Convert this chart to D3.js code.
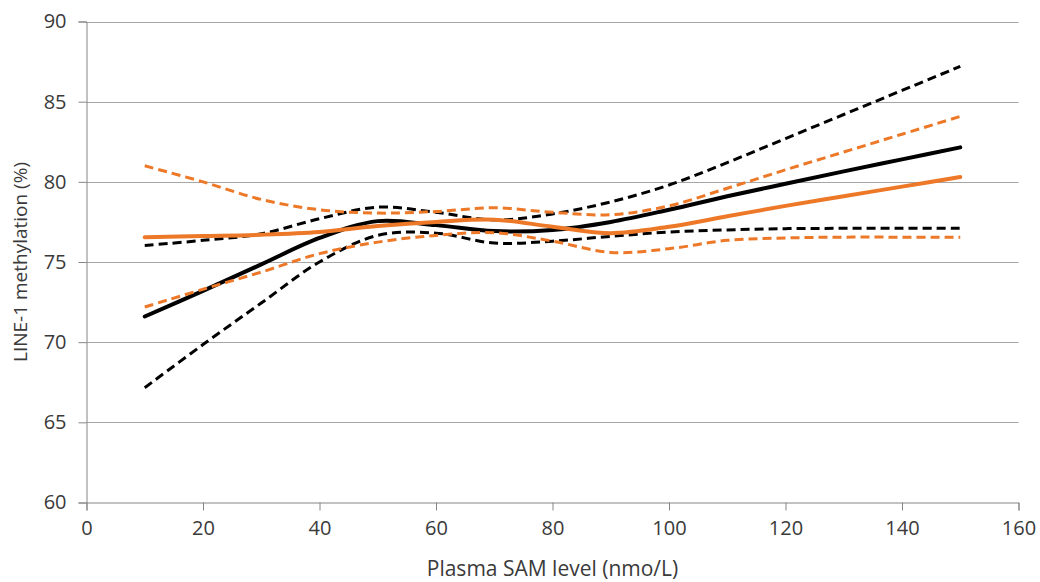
<!DOCTYPE html>
<html>
<head>
<meta charset="utf-8">
<script src="https://cdn.jsdelivr.net/npm/d3@7"></script>
<style>
  html, body { margin: 0; padding: 0; background: #ffffff; }
  svg text { font-family: "Open Sans", "Noto Sans", sans-serif; fill: #3a3a3a; }
</style>
</head>
<body>
<svg id="chart" width="1040" height="582"></svg>
<script>
// ---- data ----
const samLevels = [10, 20, 30, 40, 50, 60, 70, 80, 90, 100, 110, 120, 130, 140, 150];

const blackFit   = [71.6, 73.2, 74.85, 76.5, 77.55, 77.3, 76.93, 77.0, 77.5, 78.26, 79.1, 79.88, 80.65, 81.4, 82.15];
const blackUpper = [76.03, 76.35, 76.76, 77.7, 78.42, 78.1, 77.62, 78.0, 78.75, 79.8, 81.2, 82.7, 84.2, 85.7, 87.2];
const blackLower = [67.16, 69.85, 72.44, 75.0, 76.66, 76.8, 76.18, 76.3, 76.6, 76.87, 77.0, 77.08, 77.1, 77.1, 77.1];

const orangeFit   = [76.55, 76.62, 76.7, 76.87, 77.24, 77.5, 77.64, 77.2, 76.8, 77.2, 77.85, 78.5, 79.1, 79.7, 80.3];
const orangeUpper = [81.0, 80.0, 78.9, 78.26, 78.05, 78.15, 78.38, 78.1, 77.95, 78.5, 79.6, 80.75, 81.86, 82.97, 84.08];
const orangeLower = [72.19, 73.3, 74.37, 75.52, 76.24, 76.66, 76.83, 76.3, 75.6, 75.83, 76.35, 76.5, 76.55, 76.55, 76.55];

const xTicks = [0, 20, 40, 60, 80, 100, 120, 140, 160];
const yTicks = [60, 65, 70, 75, 80, 85, 90];

const xTitle = "Plasma SAM level (nmo/L)";
const yTitle = "LINE-1 methylation (%)";

// ---- layout ----
const plotLeft = 86.5, plotRight = 1018.5, plotTop = 21.5, plotBottom = 502.5;
const tickFont = 20;

const svg = d3.select("#chart");
const x = d3.scaleLinear().domain([0, 160]).range([plotLeft, plotRight]);
const y = d3.scaleLinear().domain([60, 90]).range([plotBottom, plotTop]);

const gridColor = "#a6a6a6";
const axisColor = "#868686";

// gridlines
svg.append("g")
  .selectAll("line")
  .data(yTicks.filter(t => t !== 60))
  .join("line")
  .attr("x1", plotLeft).attr("x2", plotRight)
  .attr("y1", d => Math.round(y(d)) + 0.5)
  .attr("y2", d => Math.round(y(d)) + 0.5)
  .attr("stroke", gridColor)
  .attr("stroke-width", 1);

// y axis
const yAxis = svg.append("g")
  .attr("transform", `translate(${plotLeft},0)`)
  .call(d3.axisLeft(y).tickValues(yTicks).tickSize(8).tickPadding(12).tickFormat(d3.format("d")));
yAxis.select(".domain").attr("stroke", axisColor);
yAxis.selectAll(".tick line").attr("stroke", axisColor);
yAxis.selectAll(".tick text").attr("font-size", tickFont).attr("fill", "#3a3a3a")
  .attr("font-family", "'Open Sans', 'Noto Sans', sans-serif");

// x axis
const xAxis = svg.append("g")
  .attr("transform", `translate(0,${plotBottom})`)
  .call(d3.axisBottom(x).tickValues(xTicks).tickSize(8).tickPadding(10).tickFormat(d3.format("d")));
xAxis.select(".domain").attr("stroke", axisColor);
xAxis.selectAll(".tick line").attr("stroke", axisColor);
xAxis.selectAll(".tick text").attr("font-size", tickFont).attr("fill", "#3a3a3a")
  .attr("font-family", "'Open Sans', 'Noto Sans', sans-serif");

// titles
svg.append("text")
  .attr("x", (plotLeft + plotRight) / 2)
  .attr("y", 576)
  .attr("text-anchor", "middle")
  .attr("font-size", 21)
  .text(xTitle);

svg.append("text")
  .attr("transform", `translate(27,${(plotTop + plotBottom) / 2}) rotate(-90)`)
  .attr("text-anchor", "middle")
  .attr("font-size", 19)
  .text(yTitle);

// series
const orange = "#EC7828";
const series = [
  { values: blackLower,  color: "#000000", dashed: true },
  { values: blackUpper,  color: "#000000", dashed: true },
  { values: blackFit,    color: "#000000", dashed: false },
  { values: orangeLower, color: orange,    dashed: true },
  { values: orangeUpper, color: orange,    dashed: true },
  { values: orangeFit,   color: orange,    dashed: false }
];

const line = d3.line()
  .x((d, i) => x(samLevels[i]))
  .y(d => y(d))
  .curve(d3.curveCatmullRom.alpha(0.5));

svg.append("g")
  .selectAll("path")
  .data(series)
  .join("path")
  .attr("d", d => line(d.values))
  .attr("fill", "none")
  .attr("stroke", d => d.color)
  .attr("stroke-width", d => d.dashed ? 3 : 4)
  .attr("stroke-dasharray", d => d.dashed ? "9,5" : null)
  .attr("stroke-linecap", d => d.dashed ? "butt" : "round")
  .attr("stroke-linejoin", "round");
</script>
</body>
</html>
